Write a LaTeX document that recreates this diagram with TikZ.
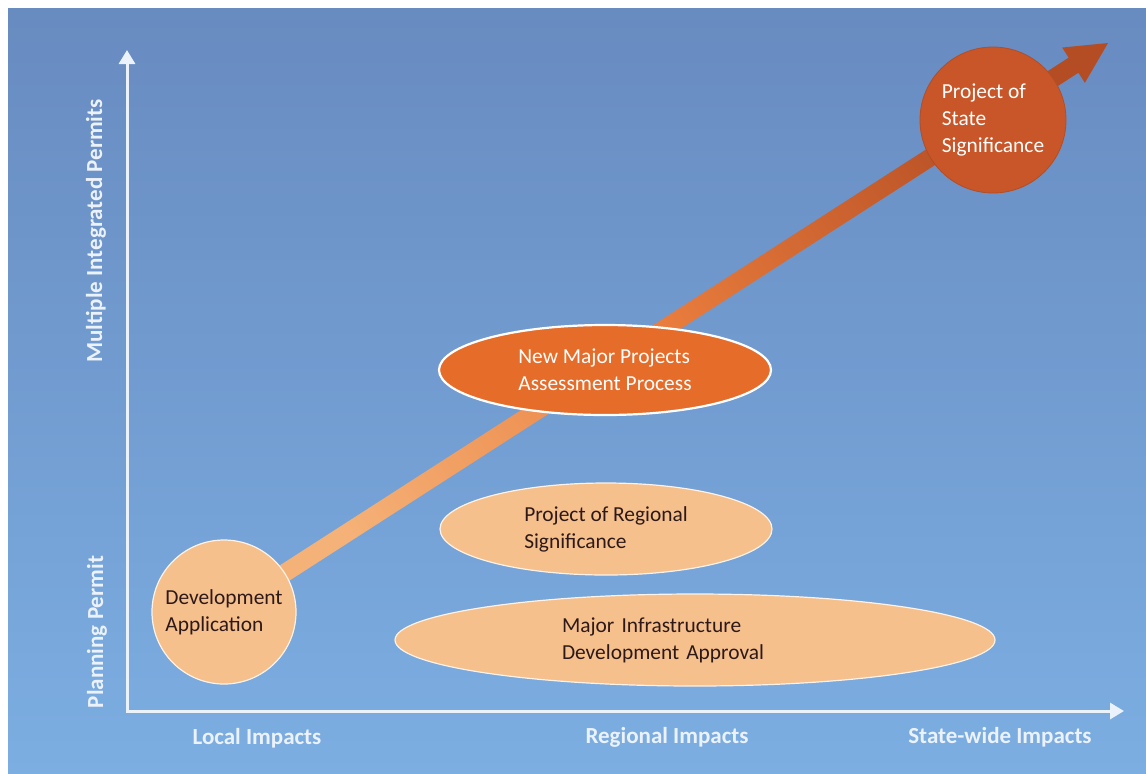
\documentclass[tikz,border=0pt]{standalone}
\usepackage{fontspec}
\setmainfont{Carlito}
\usetikzlibrary{shapes.geometric,calc,arrows.meta}

\pgfdeclarelayer{back}
\pgfdeclarelayer{mid}
\pgfsetlayers{back,mid,main}

\definecolor{skytop}{RGB}{104,139,192}
\definecolor{skybottom}{RGB}{124,174,226}
\definecolor{peach}{RGB}{246,192,140}
\definecolor{flame}{RGB}{230,108,42}
\definecolor{rust}{RGB}{200,86,40}
\definecolor{amber}{RGB}{245,178,120}
\definecolor{inkbrown}{RGB}{45,25,25}
\definecolor{axiswhite}{RGB}{236,242,250}

\tikzset{
    stage/.style={draw=white!80!peach, line width=0.6pt, fill=peach, text=inkbrown,
        inner sep=0pt, align=left, font=\fontsize{10.7}{13.5}\selectfont},
    hotstage/.style={stage, draw=white, line width=1.1pt, fill=flame, text=white},
    topstage/.style={stage, draw=rust!90!black, line width=0.4pt, fill=rust, text=white},
    axisline/.style={draw=axiswhite, line width=1.5pt, {Triangle[width=8pt,length=7pt]}-{Triangle[width=8pt,length=7pt]}},
    axislabel/.style={text=axiswhite, font=\fontsize{11.5}{13}\selectfont\bfseries}
}

\begin{document}
\begin{tikzpicture}[x=0.5pt,y=-0.5pt]
    \useasboundingbox (0,0) rectangle (1146,773);
    \begin{pgfonlayer}{back}
        \fill[white] (0,0) rectangle (1146,773);
        \shade[top color=skytop, bottom color=skybottom] (8,8) rectangle (1146,773);
    \end{pgfonlayer}

    % axes
    \coordinate (origin) at (127,711);
    \coordinate (ytop) at (127,50);
    \coordinate (xend) at (1124,711);
    \draw[axisline] (ytop) -- (origin) -- (xend);

    \node[axislabel, rotate=90] (multi) at (96,231) {Multiple Integrated Permits};
    \node[axislabel, rotate=90] (planning) at (97,632) {Planning Permit};
    \node[axislabel] (local) at (257,738) {Local Impacts};
    \node[axislabel] (regional) at (667,737) {Regional Impacts};
    \node[axislabel] (statewide) at (1000,737) {State-wide Impacts};

    % approval pathways
    \node[stage, circle, minimum size=72pt] (dev) at (224,612) {Development\\Application};
    \node[stage, ellipse, minimum width=166pt, minimum height=46pt] (regsig) at (606,529) {Project of Regional\\Significance};
    \node[stage, ellipse, minimum width=300pt, minimum height=46pt, text width=133pt] (infra) at (695,640) {Major Infrastructure\\Development Approval};
    \node[hotstage, ellipse, minimum width=166pt, minimum height=45pt] (nmp) at (605,370) {New Major Projects\\Assessment Process};
    \node[topstage, circle, minimum size=73pt] (statesig) at (993,120) {Project of\\State\\Significance};

    % rising arrow behind the nodes
    \coordinate (tip) at (1108,43);
    \coordinate (head) at ($(tip)!20.5pt!(dev.center)$);
    \begin{pgfonlayer}{mid}
        \shade[top color=rust!90!black, bottom color=amber, middle color=flame!75!amber, shading angle=-57]
            ($(dev.center)!4.5pt!90:(tip)$) -- ($(head)!4.5pt!-90:(dev.center)$)
            -- ($(head)!10.5pt!-90:(dev.center)$) -- (tip)
            -- ($(head)!10.5pt!90:(dev.center)$) -- ($(head)!4.5pt!90:(dev.center)$)
            -- ($(dev.center)!4.5pt!-90:(tip)$) -- cycle;
    \end{pgfonlayer}
\end{tikzpicture}
\end{document}
